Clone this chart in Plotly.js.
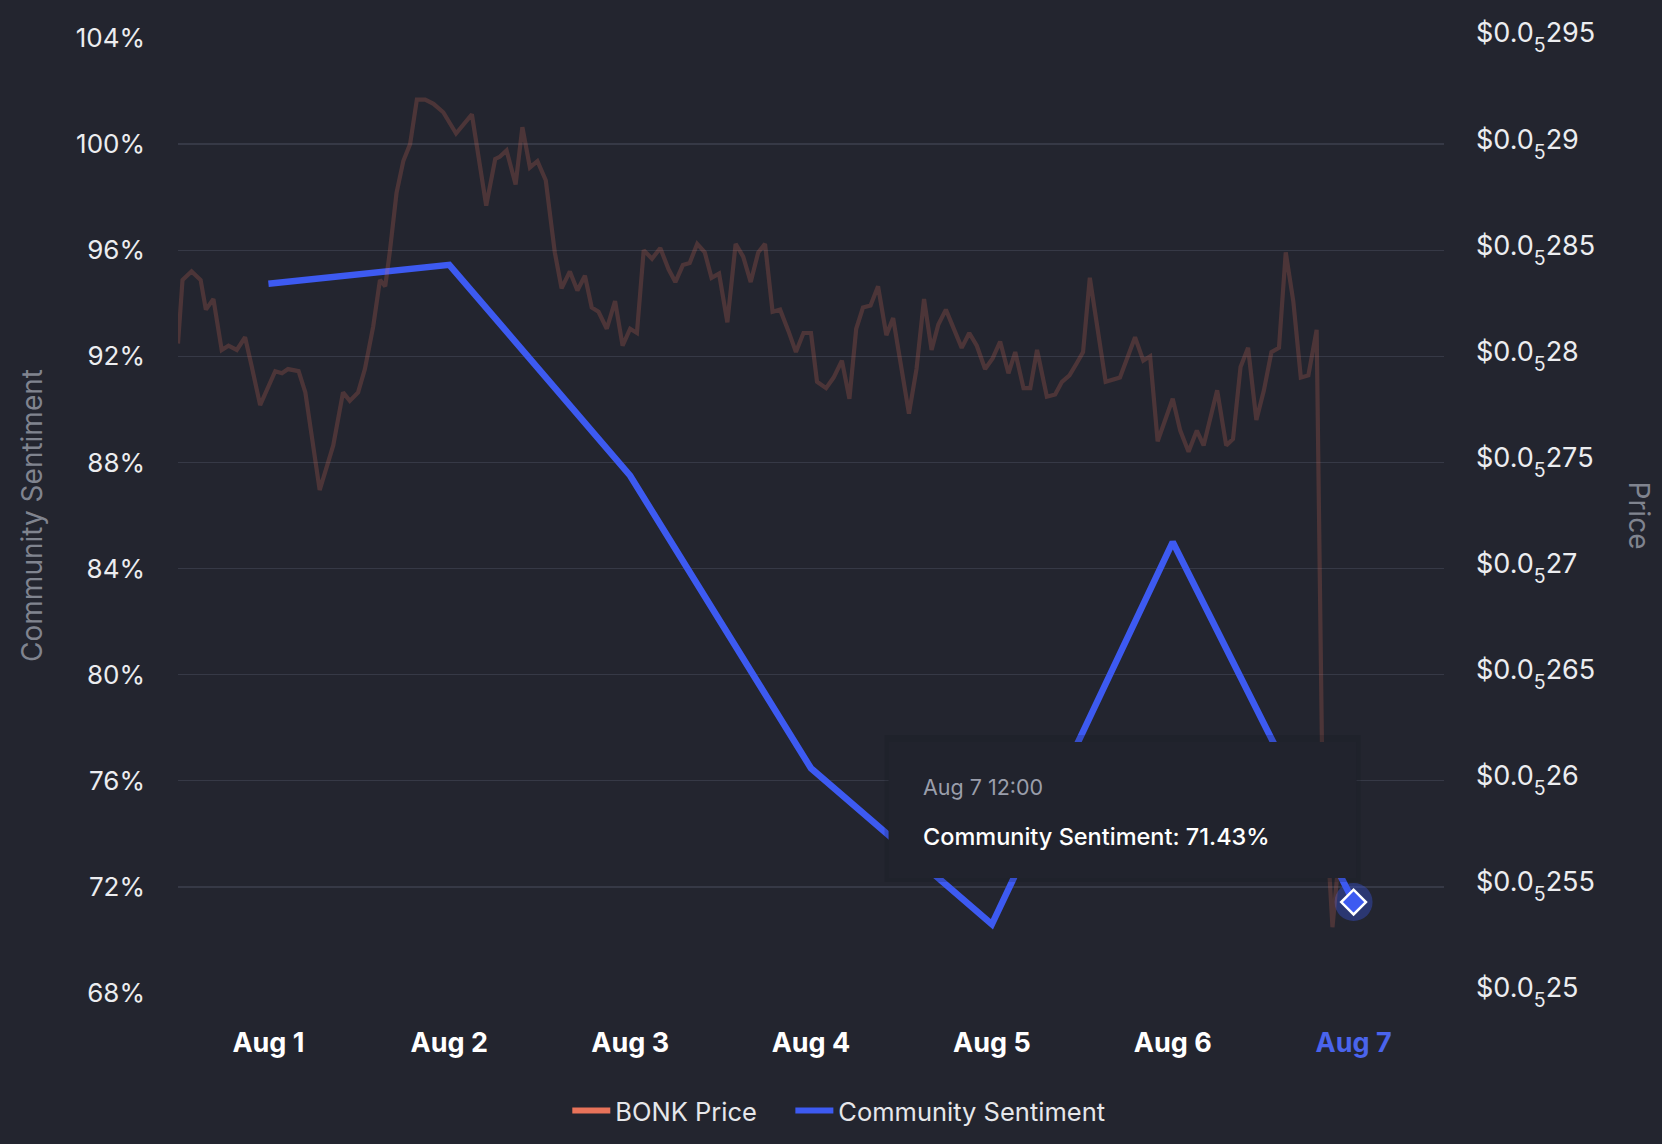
<!DOCTYPE html>
<html>
<head>
<meta charset="utf-8">
<script src="https://cdn.plot.ly/plotly-3.0.1.min.js"></script>
<style>
  html, body { margin: 0; padding: 0; background: #23252f; }
  #chart { width: 1662px; height: 1144px; }
</style>
</head>
<body>
<div id="chart"></div>
<script>
// ---------- DATA ----------
// BONK price: hours after Aug 1 00:00, price in USD
const priceHours = [
  0.0, 0.6, 1.8, 3.0, 3.7, 4.7, 5.8, 6.7, 7.8, 8.9, 9.8, 10.9, 12.9, 13.8, 14.6, 16.0, 16.9, 18.8, 20.6, 21.9,
  22.8, 23.9, 24.8, 25.9, 26.8, 27.5, 28.1, 29.0, 29.9, 30.8, 31.7, 32.8, 33.9, 35.2, 36.9, 39.0, 40.9, 42.1,
  42.7, 43.6, 44.8, 45.7, 46.7, 47.7, 48.8, 50.0, 50.9, 52.0, 53.0, 54.0, 54.9, 55.8, 56.9, 58.0, 59.0, 60.0,
  60.9, 61.8, 62.9, 64.0, 65.1, 66.0, 67.0, 67.9, 68.9, 69.9, 70.8, 71.8, 72.9, 74.0, 75.0, 76.0, 77.0, 77.9,
  78.9, 79.9, 81.0, 82.0, 83.0, 84.0, 84.8, 86.0, 87.0, 88.1, 89.1, 90.0, 90.9, 91.9, 92.9, 94.0, 94.9, 95.8,
  97.0, 98.0, 99.0, 100.0, 100.9, 101.9, 103.0, 104.0, 105.0, 106.0, 107.1, 108.1, 109.1, 110.2, 111.1, 112.2,
  113.1, 114.0, 115.3, 116.4, 117.3, 118.3, 119.3, 120.1, 121.0, 122.0, 123.1, 125.0, 126.0, 127.0, 128.1,
  129.0, 130.0, 132.0, 133.0, 134.1, 135.2, 136.1, 137.9, 139.1, 140.0, 141.0, 142.0, 143.1, 144.1, 145.1,
  146.1, 147.0, 148.0, 149.0, 150.0, 151.1, 151.8, 153.2, 154.0
];
const priceValues = [
  2.806e-6, 2.836e-6, 2.840e-6, 2.836e-6, 2.822e-6, 2.827e-6, 2.803e-6, 2.805e-6, 2.803e-6, 2.809e-6, 2.795e-6, 2.777e-6, 2.793e-6, 2.792e-6, 2.794e-6, 2.793e-6, 2.783e-6, 2.737e-6, 2.758e-6, 2.783e-6,
  2.779e-6, 2.783e-6, 2.794e-6, 2.814e-6, 2.836e-6, 2.833e-6, 2.849e-6, 2.877e-6, 2.892e-6, 2.900e-6, 2.921e-6, 2.921e-6, 2.919e-6, 2.915e-6, 2.905e-6, 2.914e-6, 2.871e-6, 2.893e-6,
  2.894e-6, 2.897e-6, 2.881e-6, 2.908e-6, 2.889e-6, 2.892e-6, 2.883e-6, 2.849e-6, 2.832e-6, 2.840e-6, 2.831e-6, 2.838e-6, 2.823e-6, 2.821e-6, 2.813e-6, 2.826e-6, 2.805e-6, 2.813e-6,
  2.811e-6, 2.850e-6, 2.846e-6, 2.851e-6, 2.841e-6, 2.835e-6, 2.843e-6, 2.844e-6, 2.853e-6, 2.849e-6, 2.837e-6, 2.839e-6, 2.816e-6, 2.853e-6, 2.847e-6, 2.835e-6, 2.849e-6, 2.853e-6,
  2.821e-6, 2.822e-6, 2.812e-6, 2.802e-6, 2.811e-6, 2.811e-6, 2.788e-6, 2.785e-6, 2.790e-6, 2.798e-6, 2.780e-6, 2.813e-6, 2.823e-6, 2.824e-6, 2.833e-6, 2.810e-6, 2.818e-6, 2.798e-6,
  2.773e-6, 2.794e-6, 2.827e-6, 2.803e-6, 2.815e-6, 2.822e-6, 2.813e-6, 2.804e-6, 2.811e-6, 2.805e-6, 2.794e-6, 2.799e-6, 2.807e-6, 2.792e-6, 2.802e-6, 2.785e-6,
  2.785e-6, 2.803e-6, 2.781e-6, 2.782e-6, 2.788e-6, 2.791e-6, 2.797e-6, 2.802e-6, 2.837e-6, 2.813e-6, 2.788e-6, 2.790e-6, 2.799e-6, 2.809e-6, 2.798e-6,
  2.800e-6, 2.760e-6, 2.780e-6, 2.765e-6, 2.755e-6, 2.765e-6, 2.758e-6, 2.784e-6, 2.758e-6, 2.761e-6, 2.795e-6, 2.804e-6, 2.770e-6, 2.784e-6, 2.802e-6,
  2.804e-6, 2.849e-6, 2.826e-6, 2.790e-6, 2.791e-6, 2.8125e-6, 2.618e-6, 2.531e-6, 2.562e-6
];

// Community sentiment (daily, at 12:00)
const sentimentDates = ['2024-08-01 12:00', '2024-08-02 12:00', '2024-08-03 12:00', '2024-08-04 12:00',
                        '2024-08-05 12:00', '2024-08-06 12:00', '2024-08-07 12:00'];
const sentimentValues = [94.74, 95.45, 87.50, 76.47, 70.59, 85.00, 71.43];

// Tick labels
const xTickLabels = ['Aug 1', 'Aug 2', 'Aug 3', 'Aug 4', 'Aug 5', 'Aug 6', 'Aug 7'];
const leftTickValues = [68, 72, 76, 80, 84, 88, 92, 96, 100, 104];
const priceTickValues = [2.50e-6, 2.55e-6, 2.60e-6, 2.65e-6, 2.70e-6, 2.75e-6, 2.80e-6, 2.85e-6, 2.90e-6, 2.95e-6];
const priceTickDigits = ['25', '255', '26', '265', '27', '275', '28', '285', '29', '295'];

const baseTime = Date.UTC(2024, 7, 1, 0, 0, 0);
const pad = n => String(n).padStart(2, '0');
function fmt(ms) {
  const d = new Date(ms);
  return d.getUTCFullYear() + '-' + pad(d.getUTCMonth() + 1) + '-' + pad(d.getUTCDate()) + ' ' +
         pad(d.getUTCHours()) + ':' + pad(d.getUTCMinutes()) + ':' + pad(d.getUTCSeconds());
}
const priceDates = priceHours.map(h => fmt(baseTime + Math.round(h * 3600000)));

// ---------- STYLE ----------
const BG = '#23252f';
const BLUE = '#3d5af1';
const CORAL = '#e8735a';
const FONT = 'Inter, "Noto Sans", sans-serif';

const lastIdx = sentimentValues.length - 1;
const hoverX = sentimentDates[lastIdx];
const hoverY = sentimentValues[lastIdx];

const traces = [
  {
    x: priceDates, y: priceValues, yaxis: 'y2', type: 'scatter', mode: 'lines',
    name: 'BONK Price', showlegend: false, hoverinfo: 'skip',
    line: { color: 'rgba(232,115,90,0.21)', width: 4.2 }
  },
  {
    x: sentimentDates, y: sentimentValues, type: 'scatter', mode: 'lines',
    name: 'Community Sentiment', showlegend: false, hoverinfo: 'skip',
    line: { color: BLUE, width: 6.5 }
  },
  { // legend entries
    x: [null], y: [null], type: 'scatter', mode: 'lines', name: 'BONK Price', legend: 'legend',
    line: { color: CORAL, width: 6 }, hoverinfo: 'skip'
  },
  {
    x: [null], y: [null], type: 'scatter', mode: 'lines', name: 'Community Sentiment', legend: 'legend2',
    line: { color: BLUE, width: 6 }, hoverinfo: 'skip'
  },
  { // hover halo
    x: [hoverX], y: [hoverY], type: 'scatter', mode: 'markers', showlegend: false, hoverinfo: 'skip',
    marker: { symbol: 'circle', size: 38, color: 'rgba(61,90,241,0.35)', line: { width: 0 } }
  },
  { // hover diamond
    x: [hoverX], y: [hoverY], type: 'scatter', mode: 'markers', showlegend: false, hoverinfo: 'skip',
    marker: { symbol: 'diamond', size: 19, color: BLUE, line: { width: 2.5, color: '#ffffff' } }
  }
];

const xTickVals = sentimentDates;
const xTickText = xTickLabels.map((t, i) =>
  i === xTickLabels.length - 1 ? '<span style="color:#4a64ec">' + t + '</span>' : t);

const legendBase = {
  orientation: 'h', xanchor: 'left', y: -0.1236, yanchor: 'middle',
  font: { family: FONT, size: 25.5, color: '#e6e7ea' }, bgcolor: 'rgba(0,0,0,0)',
  itemwidth: 38, itemclick: false, itemdoubleclick: false
};

const layout = {
  width: 1662, height: 1144,
  paper_bgcolor: BG, plot_bgcolor: BG,
  margin: { l: 178, r: 218, t: 38, b: 151, autoexpand: false },
  font: { family: FONT, color: '#e8e9ec' },
  showlegend: true,
  legend: Object.assign({}, legendBase, { x: 0.3075 }),
  legend2: Object.assign({}, legendBase, { x: 0.4837 }),
  xaxis: {
    type: 'date',
    range: ['2024-08-01 00:00', '2024-08-08 00:00'],
    tickmode: 'array', tickvals: xTickVals, ticktext: xTickText,
    showgrid: false, zeroline: false, showline: false, ticks: '',
    tickfont: { family: FONT, size: 27, color: '#ffffff', weight: 700 },
    ticklabelstandoff: 31,
    fixedrange: true
  },
  yaxis: {
    range: [68, 104],
    tickmode: 'array', tickvals: leftTickValues, ticktext: leftTickValues.map(v => v + '%'),
    showgrid: true, gridcolor: '#363946', gridwidth: 1.3, zeroline: false, showline: false, ticks: '',
    tickfont: { family: FONT, size: 26, color: '#ecedf0' },
    ticklabelstandoff: 32,
    title: { text: 'Community Sentiment', font: { family: FONT, size: 28, color: '#80848f' }, standoff: 24 },
    fixedrange: true
  },
  yaxis2: {
    overlaying: 'y', side: 'right',
    range: [2.50e-6, 2.95e-6],
    tickmode: 'array', tickvals: priceTickValues,
    ticktext: priceTickDigits.map(d => '$0.0<span style="font-size:19.5px;baseline-shift:-10px">5</span>' + d),
    showgrid: false, zeroline: false, showline: false, ticks: '',
    tickfont: { family: FONT, size: 27, color: '#ecedf0' },
    ticklabelstandoff: 31,
    ticklabelshift: -5,
    fixedrange: true
  },
  shapes: [
    { // tooltip shadow
      type: 'rect', layer: 'above', xref: 'x', yref: 'y',
      xsizemode: 'pixel', ysizemode: 'pixel', xanchor: hoverX, yanchor: hoverY,
      x0: -469, x1: 7, y0: 20, y1: 167,
      fillcolor: 'rgba(18,20,26,0.18)', line: { width: 0 }
    },
    { // tooltip box
      type: 'rect', layer: 'above', xref: 'x', yref: 'y',
      xsizemode: 'pixel', ysizemode: 'pixel', xanchor: hoverX, yanchor: hoverY,
      x0: -465, x1: 3, y0: 24, y1: 160,
      fillcolor: '#21232d', line: { width: 0 }
    }
  ],
  annotations: [
    {
      xref: 'x', yref: 'y', x: hoverX, y: hoverY, showarrow: false,
      xanchor: 'left', yanchor: 'middle', xshift: -433, yshift: 115,
      text: xTickLabels[lastIdx] + ' 12:00',
      font: { family: FONT, size: 21.5, color: '#9a9eab' }
    },
    {
      xref: 'x', yref: 'y', x: hoverX, y: hoverY, showarrow: false,
      xanchor: 'left', yanchor: 'middle', xshift: -433, yshift: 66,
      text: 'Community Sentiment: ' + hoverY.toFixed(2) + '%',
      font: { family: FONT, size: 23.5, color: '#ffffff', weight: 500 }
    },
    {
      xref: 'paper', yref: 'paper', x: 1, y: 0.5, xshift: 195, showarrow: false,
      xanchor: 'center', yanchor: 'middle', textangle: 90,
      text: 'Price', font: { family: FONT, size: 28, color: '#80848f' }
    }
  ]
};

Plotly.newPlot('chart', traces, layout, { displayModeBar: false, staticPlot: true });
</script>
</body>
</html>
